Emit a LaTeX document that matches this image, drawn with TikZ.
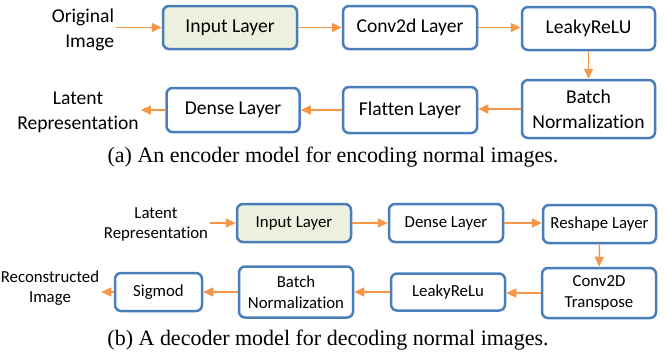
\documentclass[tikz,border=0pt]{standalone}
\usepackage{fontspec}
\setmainfont{Liberation Serif}
\newfontfamily\boxfont[Ligatures=CommonOff]{Carlito}
\usepackage{xcolor}
\usetikzlibrary{arrows.meta}

\definecolor{boxblue}{HTML}{4A7EBB}
\definecolor{inputfill}{HTML}{EBF1DE}
\definecolor{arroworange}{HTML}{F79646}

\begin{document}
\begin{tikzpicture}[x=1pt, y=-1pt,
    layer/.style={draw=boxblue, line width=2.5pt, rounded corners=6pt, fill=white, align=center, inner sep=2pt},
    enclayer/.style={layer, minimum width=134pt, font=\boxfont\fontsize{19.6}{25}\selectfont},
    declayer/.style={layer, minimum width=114pt, font=\boxfont\fontsize{16.8}{21}\selectfont},
    enclabel/.style={align=center, inner sep=2pt, font=\boxfont\fontsize{19.6}{25}\selectfont},
    declabel/.style={align=center, inner sep=2pt, font=\boxfont\fontsize{16.8}{20}\selectfont},
    flow/.style={draw=arroworange, line width=1.5pt, -{Triangle[length=10pt, width=9pt]}},
    caption/.style={font=\fontsize{22}{26}\selectfont}]
    \useasboundingbox (0,0) rectangle (667,360);

    % Encoder
    \node [enclabel, align=right] (orig) at (83,30) {Original\\Image};
    \node [enclayer, fill=inputfill, minimum height=43pt] (encin) at (230,27.5) {Input Layer};
    \node [enclayer, minimum height=43pt] (encconv) at (410,27.5) {Conv2d Layer};
    \node [enclayer, minimum width=133pt, minimum height=43pt] (encrelu) at (588.5,28.5) {LeakyReLU};
    \node [enclayer, minimum width=133pt, minimum height=58pt] (encbn) at (588.5,109) {Batch\\Normalization};
    \node [enclayer, minimum height=46pt] (encflat) at (410,110) {Flatten Layer};
    \node [enclayer, minimum width=133pt, minimum height=44pt] (encdense) at (233,110) {Dense Layer};
    \node [enclabel] (enclatent) at (78,112) {Latent\\Representation};
    \node [caption] (capa) at (333,157) {(a) An encoder model for encoding normal images.};

    \draw [flow] (orig.east |- encin.west) -- (encin.west);
    \draw [flow] (encin.east) -- (encin.east -| encconv.west);
    \draw [flow] (encconv.east) -- (encconv.east -| encrelu.west);
    \draw [flow] (encrelu) -- (encbn);
    \draw [flow] (encbn.west) -- (encbn.west -| encflat.east);
    \draw [flow] (encflat.west) -- (encflat.west -| encdense.east);
    \draw [flow] (encdense.west) -- (encdense.west -| enclatent.east);

    % Decoder
    \node [declabel] (declatent) at (156,224) {Latent\\Representation};
    \node [declayer, fill=inputfill, minimum height=38pt] (decin) at (294,223) {Input Layer};
    \node [declayer, minimum height=38pt] (decdense) at (446,223) {Dense Layer};
    \node [declayer, minimum width=113pt, minimum height=38pt] (decreshape) at (599.5,224) {Reshape Layer};
    \node [declayer, minimum height=50pt] (decconv) at (599,293) {Conv2D\\Transpose};
    \node [declayer, minimum height=37pt] (decrelu) at (448,292) {LeakyReLu};
    \node [declayer, minimum height=51pt] (decbn) at (296,292) {Batch\\Normalization};
    \node [declayer, minimum width=87pt, minimum height=38pt] (decsig) at (158.5,292) {Sigmod};
    \node [declabel] (recon) at (50,288) {Reconstructed\\Image};
    \node [caption] (capb) at (328,340) {(b) A decoder model for decoding normal images.};

    \draw [flow] (declatent.east |- decin.west) -- (decin.west);
    \draw [flow] (decin.east) -- (decin.east -| decdense.west);
    \draw [flow] (decdense.east) -- (decdense.east -| decreshape.west);
    \draw [flow] (decreshape) -- (decconv);
    \draw [flow] (decconv.west) -- (decconv.west -| decrelu.east);
    \draw [flow] (decrelu.west) -- (decrelu.west -| decbn.east);
    \draw [flow] (decbn.west) -- (decbn.west -| decsig.east);
    \draw [flow] (decsig.west) -- (decsig.west -| recon.east);
\end{tikzpicture}
\end{document}
